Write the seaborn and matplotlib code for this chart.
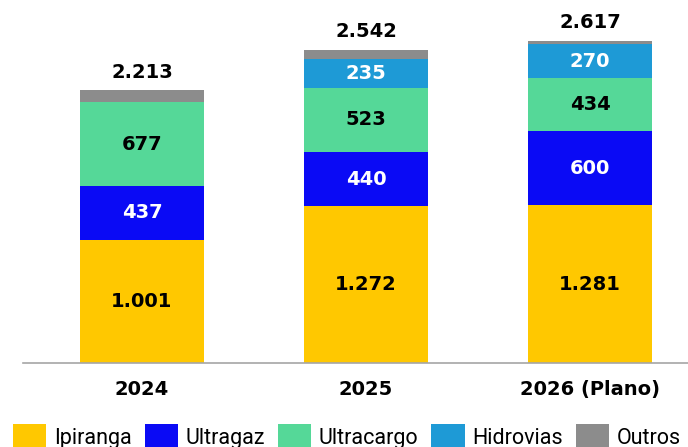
import matplotlib
matplotlib.use("Agg")
import matplotlib.pyplot as plt
import seaborn as sns
import pandas as pd

# Values
years = ['2024', '2025', '2026 (Plano)']
ipiranga = [1001, 1272, 1281]
ultragaz = [437, 440, 600]
ultracargo = [677, 523, 434]
hidrovias = [0, 235, 270]
outros = [98, 72, 32]
totals = [2213, 2542, 2617]

series = ['Ipiranga', 'Ultragaz', 'Ultracargo', 'Hidrovias', 'Outros']
values = [ipiranga, ultragaz, ultracargo, hidrovias, outros]
colors = ['#FFC800', '#0A0AF5', '#55D898', '#1E9AD6', '#8C8C8C']
label_colors = ['black', 'white', 'black', 'white', None]

sns.set_style('white')
plt.rcParams['font.family'] = ['Roboto', 'DejaVu Sans']
num_font = ['DejaVu Sans']

fig = plt.figure(figsize=(6.88, 4.47), dpi=100)
ax = fig.add_axes([23 / 688, 1 - 363 / 447, 1 - 23 / 688, 363 / 447])

bottom = [0, 0, 0]
for name, vals, col, lc in zip(series, values, colors, label_colors):
    df = pd.DataFrame({'year': years, 'value': vals})
    sns.barplot(data=df, x='year', y='value', order=years, color=col,
                bottom=bottom, width=0.554, ax=ax, label=name,
                linewidth=0, saturation=1)
    if lc is not None:
        for i, v in enumerate(vals):
            if v > 0:
                txt = f'{v / 1000:.3f}' if v >= 1000 else str(v)
                ax.text(i, bottom[i] + v / 2, txt, ha='center', va='center',
                        color=lc, fontsize=14, fontweight='bold', family=num_font)
    bottom = [b + v for b, v in zip(bottom, vals)]

for i, t in enumerate(totals):
    ax.text(i, t + 70, f'{t / 1000:.3f}', ha='center', va='bottom',
            color='black', fontsize=14, fontweight='bold', family=num_font)

ax.set_xlim(-0.531, 2.4375)
ax.set_ylim(0, 2946)
ax.set_yticks([])
ax.set_xlabel('')
ax.set_ylabel('')
for s in ['top', 'right', 'left']:
    ax.spines[s].set_visible(False)
ax.spines['bottom'].set_color('#A6A6A6')
ax.spines['bottom'].set_linewidth(1.2)
ax.tick_params(axis='x', length=0, pad=12, labelsize=14, labelcolor='black')
for lab in ax.get_xticklabels():
    lab.set_fontweight('bold')
    lab.set_family(num_font)

if ax.legend_:
    ax.legend_.remove()
handles, labels = ax.get_legend_handles_labels()
leg = fig.legend(handles, labels, ncol=5, loc='upper left',
                 bbox_to_anchor=(13 / 688, 1 - 424 / 447), frameon=False,
                 fontsize=15.5, handlelength=1.55, handleheight=1.4,
                 handletextpad=0.35, columnspacing=0.6, borderpad=0,
                 borderaxespad=0)
for t in leg.get_texts():
    t.set_color('black')

fig.savefig('out.png', dpi=100)
